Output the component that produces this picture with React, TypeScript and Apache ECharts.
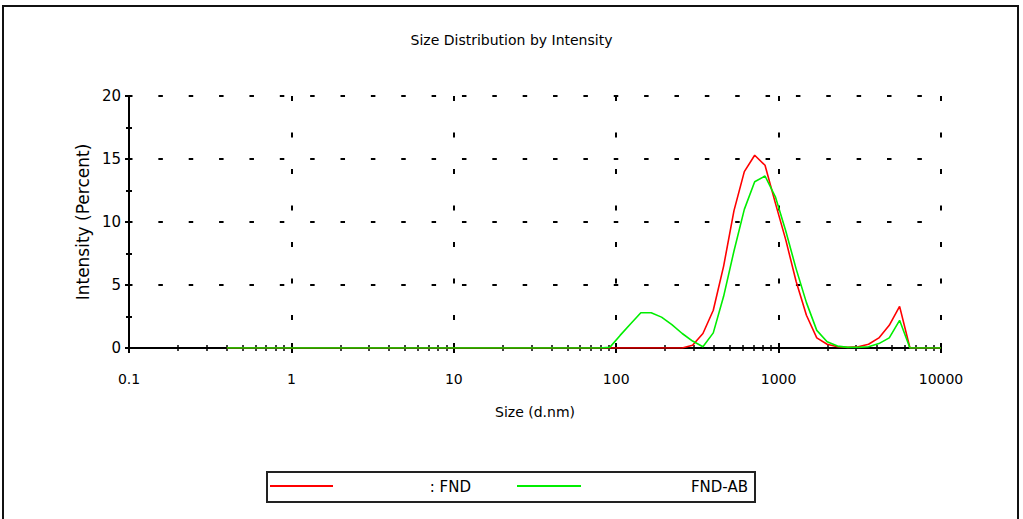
import React, { useEffect, useRef } from "react";
import * as echarts from "echarts";

const sizes = [
  0.4, 0.4632, 0.5365, 0.6213, 0.7195, 0.8332, 0.9649, 1.117, 1.294, 1.499,
  1.736, 2.01, 2.328, 2.696, 3.122, 3.615, 4.187, 4.849, 5.615, 6.503,
  7.531, 8.721, 10.1, 11.7, 13.54, 15.69, 18.17, 21.04, 24.36, 28.21,
  32.67, 37.84, 43.82, 50.75, 58.77, 68.06, 78.82, 91.28, 105.7, 122.4,
  141.8, 164.2, 190.1, 220.2, 255.0, 295.3, 342.0, 396.1, 458.7, 531.2,
  615.1, 712.4, 825.0, 955.4, 1106, 1281, 1484, 1718, 1990, 2305,
  2669, 3091, 3580, 4145, 4801, 5560, 6439, 7456, 8635, 10000,
];

const fnd = [
  0, 0, 0, 0, 0, 0, 0, 0, 0, 0,
  0, 0, 0, 0, 0, 0, 0, 0, 0, 0,
  0, 0, 0, 0, 0, 0, 0, 0, 0, 0,
  0, 0, 0, 0, 0, 0, 0, 0, 0, 0,
  0, 0, 0, 0, 0, 0.22, 1.15, 3.0, 6.5, 10.9,
  14.0, 15.3, 14.5, 11.5, 8.6, 5.3, 2.6, 0.8, 0.3, 0.1,
  0.05, 0.1, 0.3, 0.8, 1.8, 3.3, 0, 0, 0, 0,
];

const fndAb = [
  0, 0, 0, 0, 0, 0, 0, 0, 0, 0,
  0, 0, 0, 0, 0, 0, 0, 0, 0, 0,
  0, 0, 0, 0, 0, 0, 0, 0, 0, 0,
  0, 0, 0, 0, 0, 0, 0, 0.05, 1.0, 1.9,
  2.8, 2.8, 2.45, 1.85, 1.15, 0.55, 0.1, 1.2, 4.1, 7.7,
  11.0, 13.2, 13.65, 12.0, 9.3, 6.3, 3.6, 1.4, 0.5, 0.15,
  0.05, 0.05, 0.1, 0.35, 0.8, 2.2, 0, 0, 0, 0,
];

const seriesNames = ["FND", "FND-AB"];
const seriesColors = ["#ff0000", "#00ee00"];
const yTicks = [0, 5, 10, 15, 20];

const FONT = "DejaVu Sans";

export default function App() {
  const ref = useRef<HTMLDivElement>(null);

  useEffect(() => {
    if (!ref.current) return;
    const chart = echarts.init(ref.current, null, { renderer: "svg" });

    const mk = (vals: number[]) => sizes.map((s, i) => [s, vals[i]]);

    const xBase = {
      type: "log",
      logBase: 10,
      min: 0.1,
      max: 10000,
      gridIndex: 0,
      position: "bottom",
    };
    const yBase = {
      type: "value",
      min: yTicks[0],
      max: yTicks[yTicks.length - 1],
      interval: 5,
      gridIndex: 0,
      position: "left",
    };

    chart.setOption({
      animation: false,
      backgroundColor: "#ffffff",
      title: {
        text: "Size Distribution by Intensity",
        left: "center",
        top: 28,
        textStyle: { fontFamily: FONT, fontSize: 14, fontWeight: "normal", color: "#000" },
      },
      grid: { left: 129, right: 82, top: 96, bottom: 171, containLabel: false },
      xAxis: [
        {
          ...xBase,
          name: "Size (d.nm)",
          nameLocation: "middle",
          nameGap: 57,
          nameTextStyle: { fontFamily: FONT, fontSize: 14, color: "#000" },
          axisLine: { show: true, lineStyle: { color: "#000", width: 2 } },
          axisTick: { show: true, inside: false, length: 5, lineStyle: { color: "#000", width: 2 } },
          minorTick: { show: true, splitNumber: 9, length: 3, lineStyle: { color: "#000", width: 1.5 } },
          axisLabel: {
            fontFamily: FONT,
            fontSize: 14,
            color: "#000",
            margin: 24,
            formatter: (v: number) => String(v),
          },
          splitLine: {
            show: true,
            lineStyle: { color: "#000", width: 2, type: [5, 31.5] },
          },
          minorSplitLine: { show: false },
        },
        {
          ...xBase,
          axisLine: { show: false },
          axisTick: { show: true, inside: true, length: 5, lineStyle: { color: "#000", width: 2 } },
          minorTick: { show: true, splitNumber: 9, length: 3, lineStyle: { color: "#000", width: 1.5 } },
          axisLabel: { show: false },
          splitLine: { show: false },
        },
      ],
      yAxis: [
        {
          ...yBase,
          name: "Intensity (Percent)",
          nameLocation: "middle",
          nameGap: 37,
          nameTextStyle: { fontFamily: FONT, fontSize: 17, color: "#000" },
          axisLine: { show: true, lineStyle: { color: "#000", width: 2 } },
          axisTick: { show: true, inside: false, length: 4, lineStyle: { color: "#000", width: 2 } },
          minorTick: { show: true, splitNumber: 2, length: 3, lineStyle: { color: "#000", width: 2 } },
          axisLabel: { fontFamily: FONT, fontSize: 15, color: "#000", margin: 8 },
          splitLine: {
            show: true,
            lineStyle: { color: "#000", width: 2, type: [4.5, 25.86], dashOffset: 1.4 },
          },
        },
        {
          ...yBase,
          axisLine: { show: false },
          axisTick: { show: true, inside: true, length: 3, lineStyle: { color: "#000", width: 2 } },
          minorTick: { show: true, splitNumber: 2, length: 3, lineStyle: { color: "#000", width: 2 } },
          axisLabel: { show: false },
          splitLine: { show: false },
        },
      ],
      series: [
        {
          name: seriesNames[0],
          type: "line",
          xAxisIndex: 0,
          yAxisIndex: 0,
          data: mk(fnd),
          showSymbol: false,
          symbol: "none",
          lineStyle: { color: seriesColors[0], width: 1.6 },
          itemStyle: { color: seriesColors[0] },
          z: 3,
        },
        {
          name: seriesNames[1],
          type: "line",
          xAxisIndex: 0,
          yAxisIndex: 0,
          data: mk(fndAb),
          showSymbol: false,
          symbol: "none",
          lineStyle: { color: seriesColors[1], width: 1.6 },
          itemStyle: { color: seriesColors[1] },
          z: 4,
        },
      ],
      graphic: [
        {
          type: "rect",
          shape: { x: 3, y: 6, width: 1015, height: 700 },
          style: { fill: "none", stroke: "#111", lineWidth: 2 },
          silent: true,
          z: 0,
        },
        {
          type: "rect",
          shape: { x: 267, y: 472, width: 488, height: 30 },
          style: { fill: "#fff", stroke: "#222", lineWidth: 2 },
          silent: true,
        },
        {
          type: "line",
          shape: { x1: 270, y1: 486, x2: 333, y2: 486 },
          style: { stroke: seriesColors[0], lineWidth: 2 },
          silent: true,
        },
        {
          type: "text",
          x: 471,
          y: 487,
          style: {
            text: ": " + seriesNames[0],
            fontFamily: FONT,
            fontSize: 15,
            fill: "#000",
            align: "right",
            verticalAlign: "middle",
          },
          silent: true,
        },
        {
          type: "line",
          shape: { x1: 517, y1: 486, x2: 581, y2: 486 },
          style: { stroke: seriesColors[1], lineWidth: 2 },
          silent: true,
        },
        {
          type: "text",
          x: 748,
          y: 487,
          style: {
            text: seriesNames[1],
            fontFamily: FONT,
            fontSize: 15,
            fill: "#000",
            align: "right",
            verticalAlign: "middle",
          },
          silent: true,
        },
      ],
    });

    return () => chart.dispose();
  }, []);

  return (
    <div
      ref={ref}
      style={{ position: "fixed", left: 0, top: 0, width: 1023, height: 519, background: "#fff" }}
    />
  );
}
